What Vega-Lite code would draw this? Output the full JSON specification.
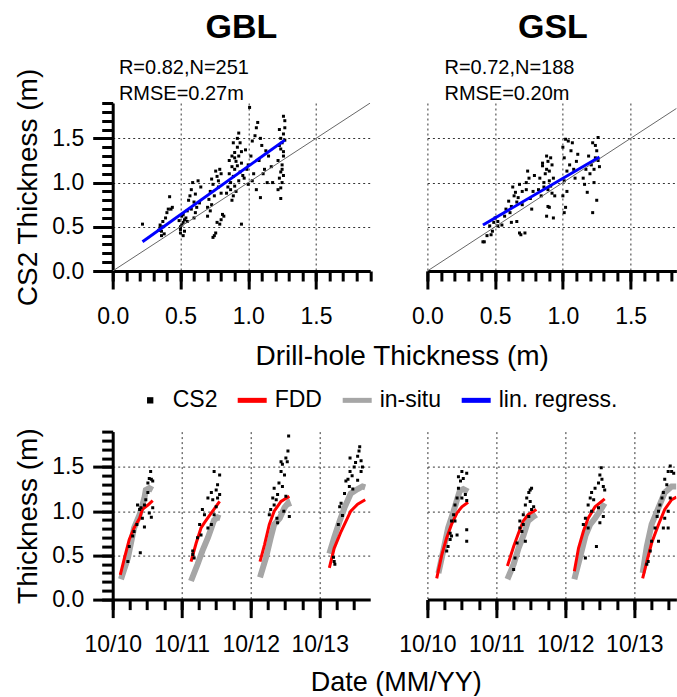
{
  "$schema": "https://vega.github.io/schema/vega-lite/v6.json",
  "padding": {"left": 14.7, "top": 11, "right": 0, "bottom": 0},
  "bounds": "flush",
  "columns": 2,
  "spacing": {"row": 160.6, "column": 56.7},
  "resolve": {"scale": {"x": "independent", "y": "independent", "color": "independent"}},
  "datasets": {
    "gblScatter": [
      {"drill":0.22,"cs2":0.53},{"drill":0.35,"cs2":0.52},{"drill":0.35,"cs2":0.49},{"drill":0.36,"cs2":0.45},{"drill":0.37,"cs2":0.56},{"drill":0.38,"cs2":0.42},{"drill":0.39,"cs2":0.60},{"drill":0.36,"cs2":0.40},{"drill":0.34,"cs2":0.46},{"drill":0.37,"cs2":0.50},{"drill":0.42,"cs2":0.84},{"drill":0.43,"cs2":0.70},{"drill":0.41,"cs2":0.70},{"drill":0.40,"cs2":0.66},{"drill":0.44,"cs2":0.72},
      {"drill":0.50,"cs2":0.43},{"drill":0.50,"cs2":0.47},{"drill":0.51,"cs2":0.52},{"drill":0.52,"cs2":0.55},{"drill":0.53,"cs2":0.58},{"drill":0.51,"cs2":0.62},{"drill":0.50,"cs2":0.50},{"drill":0.53,"cs2":0.45},{"drill":0.52,"cs2":0.40},{"drill":0.54,"cs2":0.60},{"drill":0.55,"cs2":0.56},{"drill":0.49,"cs2":0.57},{"drill":0.52,"cs2":0.64},
      {"drill":0.57,"cs2":0.85},{"drill":0.58,"cs2":0.92},{"drill":0.59,"cs2":1.00},{"drill":0.63,"cs2":1.02},{"drill":0.61,"cs2":0.87},{"drill":0.61,"cs2":0.66},{"drill":0.64,"cs2":0.77},{"drill":0.56,"cs2":0.80},{"drill":0.60,"cs2":0.78},{"drill":0.58,"cs2":0.70},{"drill":0.62,"cs2":0.72},{"drill":0.65,"cs2":0.95},{"drill":0.55,"cs2":0.68},{"drill":0.60,"cs2":0.60},
      {"drill":0.70,"cs2":0.72},{"drill":0.71,"cs2":0.81},{"drill":0.73,"cs2":1.04},{"drill":0.76,"cs2":1.13},{"drill":0.77,"cs2":1.07},{"drill":0.79,"cs2":1.15},{"drill":0.77,"cs2":0.55},{"drill":0.76,"cs2":0.43},{"drill":0.79,"cs2":0.53},{"drill":0.80,"cs2":0.58},{"drill":0.81,"cs2":0.64},{"drill":0.82,"cs2":0.62},{"drill":0.73,"cs2":0.75},{"drill":0.72,"cs2":0.90},{"drill":0.74,"cs2":0.98},{"drill":0.78,"cs2":0.95},{"drill":0.80,"cs2":0.88},{"drill":0.75,"cs2":0.85},{"drill":0.70,"cs2":0.62},{"drill":0.72,"cs2":0.68},{"drill":0.78,"cs2":1.02},{"drill":0.80,"cs2":1.10},{"drill":0.74,"cs2":0.38},{"drill":0.75,"cs2":0.40},
      {"drill":0.93,"cs2":1.56},{"drill":0.94,"cs2":1.45},{"drill":0.90,"cs2":1.34},{"drill":0.91,"cs2":1.24},{"drill":0.92,"cs2":1.19},{"drill":0.89,"cs2":1.07},{"drill":0.90,"cs2":0.96},{"drill":0.89,"cs2":0.85},{"drill":0.87,"cs2":0.92},{"drill":0.95,"cs2":0.53},{"drill":0.86,"cs2":1.10},{"drill":0.88,"cs2":1.18},{"drill":0.90,"cs2":1.28},{"drill":0.92,"cs2":1.40},{"drill":0.93,"cs2":1.30},{"drill":0.95,"cs2":1.35},{"drill":0.94,"cs2":1.12},{"drill":0.87,"cs2":1.00},{"drill":0.88,"cs2":0.80},{"drill":0.91,"cs2":0.90},{"drill":0.93,"cs2":1.02},{"drill":0.95,"cs2":1.22},{"drill":0.85,"cs2":0.95},{"drill":0.86,"cs2":1.25},{"drill":0.89,"cs2":1.45},{"drill":0.92,"cs2":1.50},{"drill":0.96,"cs2":1.08},{"drill":0.84,"cs2":0.88},{"drill":0.90,"cs2":1.15},{"drill":0.88,"cs2":1.30},
      {"drill":1.01,"cs2":1.85},{"drill":1.07,"cs2":1.68},{"drill":1.03,"cs2":1.47},{"drill":1.05,"cs2":1.53},{"drill":0.98,"cs2":1.37},{"drill":0.97,"cs2":1.05},{"drill":1.00,"cs2":0.98},{"drill":1.06,"cs2":0.92},{"drill":1.09,"cs2":0.83},{"drill":1.12,"cs2":1.15},{"drill":1.13,"cs2":1.36},{"drill":1.14,"cs2":1.00},{"drill":1.18,"cs2":1.00},{"drill":1.00,"cs2":1.20},{"drill":1.02,"cs2":1.30},{"drill":1.04,"cs2":1.10},{"drill":1.08,"cs2":1.25},{"drill":1.10,"cs2":1.42},{"drill":1.06,"cs2":1.62},{"drill":1.11,"cs2":1.10},{"drill":0.99,"cs2":1.15},{"drill":1.03,"cs2":1.02},{"drill":1.15,"cs2":1.30},{"drill":1.17,"cs2":1.18},{"drill":1.09,"cs2":1.50},
      {"drill":1.22,"cs2":0.92},{"drill":1.23,"cs2":1.05},{"drill":1.24,"cs2":1.12},{"drill":1.25,"cs2":1.20},{"drill":1.26,"cs2":1.30},{"drill":1.24,"cs2":1.38},{"drill":1.25,"cs2":1.45},{"drill":1.26,"cs2":1.55},{"drill":1.27,"cs2":1.62},{"drill":1.27,"cs2":1.70},{"drill":1.26,"cs2":1.75},{"drill":1.23,"cs2":1.42},{"drill":1.24,"cs2":1.50},{"drill":1.22,"cs2":1.25},{"drill":1.25,"cs2":1.00},{"drill":1.24,"cs2":0.94},{"drill":1.25,"cs2":1.15},{"drill":1.26,"cs2":1.35},{"drill":1.23,"cs2":1.60},{"drill":1.27,"cs2":1.48},{"drill":1.24,"cs2":0.82},{"drill":1.26,"cs2":1.08}
    ],
    "gslScatter": [
      {"drill":0.41,"cs2":0.33},{"drill":0.42,"cs2":0.33},{"drill":0.44,"cs2":0.40},{"drill":0.47,"cs2":0.41},{"drill":0.46,"cs2":0.51},{"drill":0.49,"cs2":0.55},{"drill":0.52,"cs2":0.56},{"drill":0.52,"cs2":0.51},{"drill":0.50,"cs2":0.60},{"drill":0.55,"cs2":0.52},{"drill":0.48,"cs2":0.45},
      {"drill":0.60,"cs2":0.79},{"drill":0.62,"cs2":0.73},{"drill":0.64,"cs2":0.85},{"drill":0.65,"cs2":0.89},{"drill":0.67,"cs2":0.83},{"drill":0.68,"cs2":0.43},{"drill":0.69,"cs2":0.41},{"drill":0.72,"cs2":0.43},{"drill":0.66,"cs2":0.56},{"drill":0.62,"cs2":0.55},{"drill":0.58,"cs2":0.70},{"drill":0.63,"cs2":0.95},{"drill":0.66,"cs2":0.78},{"drill":0.70,"cs2":0.75},{"drill":0.61,"cs2":0.66},{"drill":0.70,"cs2":0.90},{"drill":0.68,"cs2":0.98},{"drill":0.57,"cs2":0.62},
      {"drill":0.74,"cs2":1.13},{"drill":0.75,"cs2":1.05},{"drill":0.73,"cs2":0.92},{"drill":0.73,"cs2":1.00},{"drill":0.76,"cs2":0.82},{"drill":0.78,"cs2":0.90},{"drill":0.77,"cs2":0.70},{"drill":0.79,"cs2":1.08},
      {"drill":0.83,"cs2":1.05},{"drill":0.85,"cs2":1.19},{"drill":0.89,"cs2":1.24},{"drill":0.90,"cs2":1.13},{"drill":0.91,"cs2":1.28},{"drill":0.93,"cs2":1.05},{"drill":0.91,"cs2":0.96},{"drill":0.89,"cs2":0.92},{"drill":0.89,"cs2":0.73},{"drill":0.88,"cs2":0.62},{"drill":0.93,"cs2":0.60},{"drill":0.90,"cs2":0.72},{"drill":0.84,"cs2":0.85},{"drill":0.82,"cs2":0.92},{"drill":0.86,"cs2":1.00},{"drill":0.87,"cs2":1.10},{"drill":0.88,"cs2":1.15},{"drill":0.92,"cs2":1.20},{"drill":0.94,"cs2":0.85},{"drill":0.86,"cs2":0.95},{"drill":0.90,"cs2":1.02},{"drill":0.92,"cs2":0.88},{"drill":0.85,"cs2":1.22},{"drill":0.88,"cs2":1.30},
      {"drill":1.02,"cs2":1.49},{"drill":1.04,"cs2":1.47},{"drill":1.07,"cs2":1.45},{"drill":1.06,"cs2":1.36},{"drill":1.01,"cs2":1.28},{"drill":1.03,"cs2":1.13},{"drill":1.01,"cs2":1.02},{"drill":1.02,"cs2":0.72},{"drill":1.01,"cs2":0.66},{"drill":1.09,"cs2":1.05},{"drill":1.10,"cs2":1.24},{"drill":1.11,"cs2":1.32},{"drill":1.00,"cs2":1.40},{"drill":1.05,"cs2":1.20},{"drill":1.03,"cs2":0.90},{"drill":1.08,"cs2":1.15},{"drill":1.00,"cs2":0.85},
      {"drill":1.15,"cs2":1.05},{"drill":1.16,"cs2":0.98},{"drill":1.18,"cs2":0.89},{"drill":1.22,"cs2":0.66},{"drill":1.25,"cs2":0.80},{"drill":1.23,"cs2":1.00},{"drill":1.21,"cs2":1.20},{"drill":1.22,"cs2":1.45},{"drill":1.26,"cs2":1.51},{"drill":1.25,"cs2":1.36},{"drill":1.23,"cs2":1.15},{"drill":1.24,"cs2":1.28},{"drill":1.20,"cs2":1.10},{"drill":1.26,"cs2":1.25},{"drill":1.24,"cs2":1.42},{"drill":1.27,"cs2":1.18},{"drill":1.19,"cs2":1.30},{"drill":1.17,"cs2":1.15}
    ],
    "diag": [{"drill":0,"cs2":0},{"drill":1.9,"cs2":1.9}],
    "gblReg": [{"drill":0.22,"cs2":0.33},{"drill":1.27,"cs2":1.48}],
    "gslReg": [{"drill":0.41,"cs2":0.52},{"drill":1.27,"cs2":1.29}],
    "gblStats": [{"label":"R=0.82,N=251\nRMSE=0.27m"}],
    "gslStats": [{"label":"R=0.72,N=188\nRMSE=0.20m"}],
    "gblTime": [
      {"s":1,"k":"FDD","yr":2010.86,"h":0.28},{"s":1,"k":"FDD","yr":2010.92,"h":0.47},{"s":1,"k":"FDD","yr":2010.99,"h":0.68},{"s":1,"k":"FDD","yr":2011.06,"h":0.81},{"s":1,"k":"FDD","yr":2011.14,"h":0.92},{"s":1,"k":"FDD","yr":2011.18,"h":1.02},{"s":1,"k":"FDD","yr":2011.26,"h":1.07},{"s":1,"k":"FDD","yr":2011.33,"h":1.12},
      {"s":1,"k":"in-situ","yr":2010.87,"h":0.23},{"s":1,"k":"in-situ","yr":2010.97,"h":0.47},{"s":1,"k":"in-situ","yr":2011.06,"h":0.81},{"s":1,"k":"in-situ","yr":2011.14,"h":0.96},{"s":1,"k":"in-situ","yr":2011.21,"h":1.15},{"s":1,"k":"in-situ","yr":2011.23,"h":1.24},{"s":1,"k":"in-situ","yr":2011.28,"h":1.26},{"s":1,"k":"in-situ","yr":2011.33,"h":1.24},
      {"s":1,"k":"CS2","yr":2010.97,"h":0.43},{"s":1,"k":"CS2","yr":2010.99,"h":0.60},{"s":1,"k":"CS2","yr":2011.04,"h":0.72},{"s":1,"k":"CS2","yr":2011.06,"h":0.77},{"s":1,"k":"CS2","yr":2011.10,"h":0.85},{"s":1,"k":"CS2","yr":2011.11,"h":1.07},{"s":1,"k":"CS2","yr":2011.14,"h":1.02},{"s":1,"k":"CS2","yr":2011.15,"h":0.53},{"s":1,"k":"CS2","yr":2011.16,"h":1.04},{"s":1,"k":"CS2","yr":2011.21,"h":0.82},{"s":1,"k":"CS2","yr":2011.23,"h":1.13},{"s":1,"k":"CS2","yr":2011.26,"h":1.32},{"s":1,"k":"CS2","yr":2011.28,"h":1.37},{"s":1,"k":"CS2","yr":2011.31,"h":1.36},{"s":1,"k":"CS2","yr":2011.33,"h":1.34},{"s":1,"k":"CS2","yr":2011.30,"h":1.45},{"s":1,"k":"CS2","yr":2011.31,"h":0.93},{"s":1,"k":"CS2","yr":2011.28,"h":0.98},{"s":1,"k":"CS2","yr":2011.33,"h":1.04},{"s":1,"k":"CS2","yr":2011.26,"h":1.21},{"s":1,"k":"CS2","yr":2011.21,"h":1.07},{"s":1,"k":"CS2","yr":2011.18,"h":0.92},
      {"s":2,"k":"FDD","yr":2011.885,"h":0.43},{"s":2,"k":"FDD","yr":2011.96,"h":0.64},{"s":2,"k":"FDD","yr":2012.03,"h":0.81},{"s":2,"k":"FDD","yr":2012.08,"h":0.87},{"s":2,"k":"FDD","yr":2012.18,"h":0.98},{"s":2,"k":"FDD","yr":2012.30,"h":1.11},
      {"s":2,"k":"in-situ","yr":2011.885,"h":0.21},{"s":2,"k":"in-situ","yr":2011.98,"h":0.40},{"s":2,"k":"in-situ","yr":2012.05,"h":0.55},{"s":2,"k":"in-situ","yr":2012.13,"h":0.70},{"s":2,"k":"in-situ","yr":2012.18,"h":0.81},{"s":2,"k":"in-situ","yr":2012.22,"h":0.90},{"s":2,"k":"in-situ","yr":2012.27,"h":0.93},{"s":2,"k":"in-situ","yr":2012.31,"h":0.92},
      {"s":2,"k":"CS2","yr":2011.91,"h":0.55},{"s":2,"k":"CS2","yr":2011.91,"h":0.51},{"s":2,"k":"CS2","yr":2011.93,"h":0.47},{"s":2,"k":"CS2","yr":2011.98,"h":0.70},{"s":2,"k":"CS2","yr":2012.01,"h":0.85},{"s":2,"k":"CS2","yr":2012.03,"h":0.73},{"s":2,"k":"CS2","yr":2012.05,"h":1.02},{"s":2,"k":"CS2","yr":2012.08,"h":0.96},{"s":2,"k":"CS2","yr":2012.13,"h":1.15},{"s":2,"k":"CS2","yr":2012.18,"h":1.21},{"s":2,"k":"CS2","yr":2012.20,"h":1.13},{"s":2,"k":"CS2","yr":2012.22,"h":1.45},{"s":2,"k":"CS2","yr":2012.25,"h":1.24},{"s":2,"k":"CS2","yr":2012.27,"h":1.30},{"s":2,"k":"CS2","yr":2012.30,"h":1.41},{"s":2,"k":"CS2","yr":2012.22,"h":0.96},{"s":2,"k":"CS2","yr":2012.18,"h":0.85},{"s":2,"k":"CS2","yr":2012.13,"h":0.81},{"s":2,"k":"CS2","yr":2012.25,"h":1.05},{"s":2,"k":"CS2","yr":2012.30,"h":1.19},{"s":2,"k":"CS2","yr":2012.27,"h":1.15},
      {"s":3,"k":"FDD","yr":2012.885,"h":0.43},{"s":3,"k":"FDD","yr":2012.95,"h":0.62},{"s":3,"k":"FDD","yr":2013.02,"h":0.85},{"s":3,"k":"FDD","yr":2013.09,"h":1.00},{"s":3,"k":"FDD","yr":2013.19,"h":1.11},{"s":3,"k":"FDD","yr":2013.31,"h":1.17},
      {"s":3,"k":"in-situ","yr":2012.885,"h":0.25},{"s":3,"k":"in-situ","yr":2012.97,"h":0.47},{"s":3,"k":"in-situ","yr":2013.04,"h":0.70},{"s":3,"k":"in-situ","yr":2013.09,"h":0.85},{"s":3,"k":"in-situ","yr":2013.17,"h":0.92},{"s":3,"k":"in-situ","yr":2013.24,"h":1.04},{"s":3,"k":"in-situ","yr":2013.29,"h":1.09},{"s":3,"k":"in-situ","yr":2013.31,"h":1.05},
      {"s":3,"k":"CS2","yr":2013.04,"h":1.02},{"s":3,"k":"CS2","yr":2013.07,"h":1.15},{"s":3,"k":"CS2","yr":2013.09,"h":1.26},{"s":3,"k":"CS2","yr":2013.12,"h":1.13},{"s":3,"k":"CS2","yr":2013.13,"h":0.92},{"s":3,"k":"CS2","yr":2013.14,"h":0.87},{"s":3,"k":"CS2","yr":2013.16,"h":1.32},{"s":3,"k":"CS2","yr":2013.19,"h":1.45},{"s":3,"k":"CS2","yr":2013.19,"h":1.56},{"s":3,"k":"CS2","yr":2013.21,"h":1.53},{"s":3,"k":"CS2","yr":2013.24,"h":1.41},{"s":3,"k":"CS2","yr":2013.26,"h":1.60},{"s":3,"k":"CS2","yr":2013.29,"h":1.68},{"s":3,"k":"CS2","yr":2013.30,"h":1.85},{"s":3,"k":"CS2","yr":2013.28,"h":1.56},{"s":3,"k":"CS2","yr":2013.21,"h":1.28},{"s":3,"k":"CS2","yr":2013.14,"h":1.19},{"s":3,"k":"CS2","yr":2013.09,"h":1.07},{"s":3,"k":"CS2","yr":2013.31,"h":0.94},{"s":3,"k":"CS2","yr":2013.26,"h":1.17},{"s":3,"k":"CS2","yr":2013.23,"h":1.00},{"s":3,"k":"CS2","yr":2013.02,"h":0.96},
      {"s":4,"k":"FDD","yr":2013.89,"h":0.36},{"s":4,"k":"FDD","yr":2013.96,"h":0.58},{"s":4,"k":"FDD","yr":2014.06,"h":0.77},{"s":4,"k":"FDD","yr":2014.20,"h":1.00},{"s":4,"k":"FDD","yr":2014.30,"h":1.08},{"s":4,"k":"FDD","yr":2014.41,"h":1.13},
      {"s":4,"k":"in-situ","yr":2013.89,"h":0.52},{"s":4,"k":"in-situ","yr":2013.96,"h":0.70},{"s":4,"k":"in-situ","yr":2014.04,"h":0.89},{"s":4,"k":"in-situ","yr":2014.11,"h":1.04},{"s":4,"k":"in-situ","yr":2014.20,"h":1.20},{"s":4,"k":"in-situ","yr":2014.30,"h":1.25},{"s":4,"k":"in-situ","yr":2014.37,"h":1.28},{"s":4,"k":"in-situ","yr":2014.41,"h":1.27},
      {"s":4,"k":"CS2","yr":2013.95,"h":0.48},{"s":4,"k":"CS2","yr":2013.96,"h":0.43},{"s":4,"k":"CS2","yr":2013.97,"h":0.40},{"s":4,"k":"CS2","yr":2014.02,"h":0.85},{"s":4,"k":"CS2","yr":2014.04,"h":1.05},{"s":4,"k":"CS2","yr":2014.06,"h":1.09},{"s":4,"k":"CS2","yr":2014.08,"h":0.95},{"s":4,"k":"CS2","yr":2014.11,"h":1.20},{"s":4,"k":"CS2","yr":2014.13,"h":1.34},{"s":4,"k":"CS2","yr":2014.16,"h":1.36},{"s":4,"k":"CS2","yr":2014.18,"h":1.28},{"s":4,"k":"CS2","yr":2014.19,"h":1.60},{"s":4,"k":"CS2","yr":2014.19,"h":1.45},{"s":4,"k":"CS2","yr":2014.22,"h":1.40},{"s":4,"k":"CS2","yr":2014.25,"h":1.50},{"s":4,"k":"CS2","yr":2014.27,"h":1.55},{"s":4,"k":"CS2","yr":2014.30,"h":1.62},{"s":4,"k":"CS2","yr":2014.32,"h":1.68},{"s":4,"k":"CS2","yr":2014.33,"h":1.73},{"s":4,"k":"CS2","yr":2014.35,"h":1.57},{"s":4,"k":"CS2","yr":2014.35,"h":1.45},{"s":4,"k":"CS2","yr":2014.37,"h":1.50},{"s":4,"k":"CS2","yr":2014.30,"h":1.35},{"s":4,"k":"CS2","yr":2014.23,"h":1.25}
    ],
    "gslTime": [
      {"s":1,"k":"FDD","yr":2010.885,"h":0.24},{"s":1,"k":"FDD","yr":2010.96,"h":0.51},{"s":1,"k":"FDD","yr":2011.03,"h":0.70},{"s":1,"k":"FDD","yr":2011.10,"h":0.85},{"s":1,"k":"FDD","yr":2011.18,"h":0.98},{"s":1,"k":"FDD","yr":2011.25,"h":1.05},{"s":1,"k":"FDD","yr":2011.34,"h":1.10},
      {"s":1,"k":"in-situ","yr":2010.91,"h":0.30},{"s":1,"k":"in-situ","yr":2010.98,"h":0.55},{"s":1,"k":"in-situ","yr":2011.05,"h":0.81},{"s":1,"k":"in-situ","yr":2011.13,"h":1.00},{"s":1,"k":"in-situ","yr":2011.18,"h":1.13},{"s":1,"k":"in-situ","yr":2011.22,"h":1.23},{"s":1,"k":"in-situ","yr":2011.27,"h":1.25},{"s":1,"k":"in-situ","yr":2011.34,"h":1.22},
      {"s":1,"k":"CS2","yr":2011.03,"h":0.55},{"s":1,"k":"CS2","yr":2011.05,"h":0.60},{"s":1,"k":"CS2","yr":2011.08,"h":0.68},{"s":1,"k":"CS2","yr":2011.10,"h":0.72},{"s":1,"k":"CS2","yr":2011.08,"h":0.75},{"s":1,"k":"CS2","yr":2011.10,"h":0.89},{"s":1,"k":"CS2","yr":2011.13,"h":0.96},{"s":1,"k":"CS2","yr":2011.15,"h":1.07},{"s":1,"k":"CS2","yr":2011.18,"h":1.15},{"s":1,"k":"CS2","yr":2011.20,"h":1.26},{"s":1,"k":"CS2","yr":2011.20,"h":1.39},{"s":1,"k":"CS2","yr":2011.25,"h":1.45},{"s":1,"k":"CS2","yr":2011.27,"h":1.37},{"s":1,"k":"CS2","yr":2011.32,"h":1.43},{"s":1,"k":"CS2","yr":2011.23,"h":1.34},{"s":1,"k":"CS2","yr":2011.25,"h":1.15},{"s":1,"k":"CS2","yr":2011.18,"h":0.73},{"s":1,"k":"CS2","yr":2011.15,"h":0.89},{"s":1,"k":"CS2","yr":2011.32,"h":0.79},{"s":1,"k":"CS2","yr":2011.32,"h":0.66},{"s":1,"k":"CS2","yr":2011.32,"h":1.12},{"s":1,"k":"CS2","yr":2011.30,"h":1.19},
      {"s":2,"k":"FDD","yr":2011.91,"h":0.38},{"s":2,"k":"FDD","yr":2012.00,"h":0.60},{"s":2,"k":"FDD","yr":2012.07,"h":0.75},{"s":2,"k":"FDD","yr":2012.14,"h":0.89},{"s":2,"k":"FDD","yr":2012.21,"h":0.96},{"s":2,"k":"FDD","yr":2012.33,"h":1.02},
      {"s":2,"k":"in-situ","yr":2011.91,"h":0.23},{"s":2,"k":"in-situ","yr":2012.00,"h":0.40},{"s":2,"k":"in-situ","yr":2012.07,"h":0.58},{"s":2,"k":"in-situ","yr":2012.14,"h":0.72},{"s":2,"k":"in-situ","yr":2012.21,"h":0.89},{"s":2,"k":"in-situ","yr":2012.29,"h":0.94},{"s":2,"k":"in-situ","yr":2012.33,"h":0.96},
      {"s":2,"k":"CS2","yr":2012.00,"h":0.34},{"s":2,"k":"CS2","yr":2012.02,"h":0.47},{"s":2,"k":"CS2","yr":2012.05,"h":0.64},{"s":2,"k":"CS2","yr":2012.09,"h":0.81},{"s":2,"k":"CS2","yr":2012.09,"h":0.89},{"s":2,"k":"CS2","yr":2012.12,"h":0.77},{"s":2,"k":"CS2","yr":2012.14,"h":0.96},{"s":2,"k":"CS2","yr":2012.17,"h":0.66},{"s":2,"k":"CS2","yr":2012.17,"h":1.07},{"s":2,"k":"CS2","yr":2012.19,"h":1.15},{"s":2,"k":"CS2","yr":2012.22,"h":1.21},{"s":2,"k":"CS2","yr":2012.24,"h":1.24},{"s":2,"k":"CS2","yr":2012.26,"h":1.26},{"s":2,"k":"CS2","yr":2012.24,"h":1.11},{"s":2,"k":"CS2","yr":2012.26,"h":1.02},{"s":2,"k":"CS2","yr":2012.29,"h":1.05},{"s":2,"k":"CS2","yr":2012.22,"h":0.94},{"s":2,"k":"CS2","yr":2012.14,"h":0.85},
      {"s":3,"k":"FDD","yr":2012.88,"h":0.32},{"s":3,"k":"FDD","yr":2012.94,"h":0.58},{"s":3,"k":"FDD","yr":2013.01,"h":0.77},{"s":3,"k":"FDD","yr":2013.08,"h":0.92},{"s":3,"k":"FDD","yr":2013.18,"h":1.05},{"s":3,"k":"FDD","yr":2013.32,"h":1.14},
      {"s":3,"k":"in-situ","yr":2012.88,"h":0.23},{"s":3,"k":"in-situ","yr":2012.96,"h":0.47},{"s":3,"k":"in-situ","yr":2013.04,"h":0.72},{"s":3,"k":"in-situ","yr":2013.11,"h":0.85},{"s":3,"k":"in-situ","yr":2013.18,"h":0.92},{"s":3,"k":"in-situ","yr":2013.25,"h":1.00},{"s":3,"k":"in-situ","yr":2013.32,"h":1.09},
      {"s":3,"k":"CS2","yr":2013.04,"h":0.47},{"s":3,"k":"CS2","yr":2013.01,"h":0.85},{"s":3,"k":"CS2","yr":2013.04,"h":0.92},{"s":3,"k":"CS2","yr":2013.08,"h":1.07},{"s":3,"k":"CS2","yr":2013.11,"h":1.15},{"s":3,"k":"CS2","yr":2013.13,"h":1.21},{"s":3,"k":"CS2","yr":2013.16,"h":1.13},{"s":3,"k":"CS2","yr":2013.18,"h":1.26},{"s":3,"k":"CS2","yr":2013.20,"h":0.60},{"s":3,"k":"CS2","yr":2013.23,"h":1.32},{"s":3,"k":"CS2","yr":2013.25,"h":1.41},{"s":3,"k":"CS2","yr":2013.27,"h":1.49},{"s":3,"k":"CS2","yr":2013.28,"h":1.36},{"s":3,"k":"CS2","yr":2013.30,"h":1.28},{"s":3,"k":"CS2","yr":2013.32,"h":1.24},{"s":3,"k":"CS2","yr":2013.25,"h":0.87},{"s":3,"k":"CS2","yr":2013.23,"h":1.04},{"s":3,"k":"CS2","yr":2013.30,"h":0.94},{"s":3,"k":"CS2","yr":2013.13,"h":1.00},{"s":3,"k":"CS2","yr":2013.08,"h":0.81},
      {"s":4,"k":"FDD","yr":2013.87,"h":0.24},{"s":4,"k":"FDD","yr":2013.93,"h":0.43},{"s":4,"k":"FDD","yr":2014.00,"h":0.64},{"s":4,"k":"FDD","yr":2014.10,"h":0.85},{"s":4,"k":"FDD","yr":2014.19,"h":1.02},{"s":4,"k":"FDD","yr":2014.29,"h":1.13},{"s":4,"k":"FDD","yr":2014.36,"h":1.16},
      {"s":4,"k":"in-situ","yr":2013.87,"h":0.30},{"s":4,"k":"in-situ","yr":2013.93,"h":0.60},{"s":4,"k":"in-situ","yr":2014.00,"h":0.85},{"s":4,"k":"in-situ","yr":2014.10,"h":1.04},{"s":4,"k":"in-situ","yr":2014.19,"h":1.21},{"s":4,"k":"in-situ","yr":2014.29,"h":1.28},{"s":4,"k":"in-situ","yr":2014.36,"h":1.28},
      {"s":4,"k":"CS2","yr":2013.93,"h":0.40},{"s":4,"k":"CS2","yr":2013.95,"h":0.43},{"s":4,"k":"CS2","yr":2013.98,"h":0.55},{"s":4,"k":"CS2","yr":2014.00,"h":0.66},{"s":4,"k":"CS2","yr":2014.05,"h":0.81},{"s":4,"k":"CS2","yr":2014.08,"h":0.94},{"s":4,"k":"CS2","yr":2014.10,"h":1.00},{"s":4,"k":"CS2","yr":2014.12,"h":1.07},{"s":4,"k":"CS2","yr":2014.15,"h":1.15},{"s":4,"k":"CS2","yr":2014.17,"h":1.21},{"s":4,"k":"CS2","yr":2014.19,"h":1.36},{"s":4,"k":"CS2","yr":2014.22,"h":1.30},{"s":4,"k":"CS2","yr":2014.24,"h":1.45},{"s":4,"k":"CS2","yr":2014.27,"h":1.51},{"s":4,"k":"CS2","yr":2014.29,"h":1.45},{"s":4,"k":"CS2","yr":2014.32,"h":1.43},{"s":4,"k":"CS2","yr":2014.27,"h":1.15},{"s":4,"k":"CS2","yr":2014.24,"h":1.00},{"s":4,"k":"CS2","yr":2014.19,"h":0.92},{"s":4,"k":"CS2","yr":2014.24,"h":0.81},{"s":4,"k":"CS2","yr":2014.17,"h":0.81},{"s":4,"k":"CS2","yr":2014.10,"h":0.66}
    ]
  },
  "concat": [
    {
      "width": 257.5, "height": 168,
      "title": {"text": "GBL", "offset": 13},
      "resolve": {"axis": {"x": "independent", "y": "independent"}},
      "layer": [
        {
          "data": {"name": "gblScatter"},
          "mark": {"type": "square", "size": 9, "color": "black", "opacity": 1},
          "encoding": {
            "x": {"field": "drill", "type": "quantitative", "scale": {"domain": [0, 1.9], "nice": false, "zero": false},
                  "axis": {"values": [0, 0.5, 1, 1.5], "format": ".1f", "tickSize": 18, "labelPadding": 16, "grid": true, "title": "Drill-hole Thickness (m)", "titleX": 289, "titleY": 86, "titleAlign": "center", "titleBaseline": "middle"}},
            "y": {"field": "cs2", "type": "quantitative", "scale": {"domain": [0, 1.9], "nice": false, "zero": false},
                  "axis": {"values": [0, 0.5, 1, 1.5], "format": ".1f", "tickSize": 20, "labelPadding": 9, "grid": true, "title": "CS2 Thickness (m)", "titlePadding": 9}}
          }
        },
        {
          "data": {"name": "diag"},
          "mark": {"type": "line", "color": "#666666", "strokeWidth": 1, "clip": true},
          "encoding": {
            "x": {"field": "drill", "type": "quantitative", "axis": {"orient": "bottom", "values": [0,0.1,0.2,0.3,0.4,0.5,0.6,0.7,0.8,0.9,1,1.1,1.2,1.3,1.4,1.5,1.6,1.7,1.8,1.9], "tickSize": 10, "labels": false, "domain": false, "grid": false, "title": null}},
            "y": {"field": "cs2", "type": "quantitative", "axis": {"orient": "left", "values": [0,0.1,0.2,0.3,0.4,0.5,0.6,0.7,0.8,0.9,1,1.1,1.2,1.3,1.4,1.5,1.6,1.7,1.8,1.9], "tickSize": 11, "labels": false, "domain": false, "grid": false, "title": null}}
          }
        },
        {
          "data": {"name": "gblReg"},
          "mark": {"type": "line", "color": "#0000ff", "strokeWidth": 3},
          "encoding": {
            "x": {"field": "drill", "type": "quantitative", "axis": null},
            "y": {"field": "cs2", "type": "quantitative", "axis": null}
          }
        },
        {
          "data": {"name": "gblStats"},
          "mark": {"type": "text", "align": "left", "baseline": "alphabetic", "dy": -29, "fontSize": 20, "lineBreak": "\n", "lineHeight": 26, "color": "black"},
          "encoding": {
            "text": {"field": "label"},
            "x": {"datum": 0.046, "type": "quantitative", "axis": null},
            "y": {"datum": 1.9, "type": "quantitative", "axis": null}
          }
        }
      ]
    },
    {
      "width": 249, "height": 168,
      "title": {"text": "GSL", "offset": 13, "dx": 1},
      "resolve": {"axis": {"x": "independent", "y": "independent"}},
      "layer": [
        {
          "data": {"name": "gslScatter"},
          "mark": {"type": "square", "size": 9, "color": "black", "opacity": 1},
          "encoding": {
            "x": {"field": "drill", "type": "quantitative", "scale": {"domain": [0, 1.838], "nice": false, "zero": false},
                  "axis": {"values": [0, 0.5, 1, 1.5], "format": ".1f", "tickSize": 18, "labelPadding": 16, "grid": true, "title": null}},
            "y": {"field": "cs2", "type": "quantitative", "scale": {"domain": [0, 1.9], "nice": false, "zero": false},
                  "axis": {"values": [0.5, 1, 1.5], "grid": true, "labels": false, "ticks": false, "domain": false, "title": null}}
          }
        },
        {
          "data": {"name": "diag"},
          "mark": {"type": "line", "color": "#666666", "strokeWidth": 1, "clip": true},
          "encoding": {
            "x": {"field": "drill", "type": "quantitative", "axis": {"orient": "bottom", "values": [0,0.1,0.2,0.3,0.4,0.5,0.6,0.7,0.8,0.9,1,1.1,1.2,1.3,1.4,1.5,1.6,1.7,1.8], "tickSize": 10, "labels": false, "domain": false, "grid": false, "title": null}},
            "y": {"field": "cs2", "type": "quantitative", "axis": null}
          }
        },
        {
          "data": {"name": "gslReg"},
          "mark": {"type": "line", "color": "#0000ff", "strokeWidth": 3},
          "encoding": {
            "x": {"field": "drill", "type": "quantitative", "axis": null},
            "y": {"field": "cs2", "type": "quantitative", "axis": null}
          }
        },
        {
          "data": {"name": "gslStats"},
          "mark": {"type": "text", "align": "left", "baseline": "alphabetic", "dy": -29, "fontSize": 20, "lineBreak": "\n", "lineHeight": 26, "color": "black"},
          "encoding": {
            "text": {"field": "label"},
            "x": {"datum": 0.126, "type": "quantitative", "axis": null},
            "y": {"datum": 1.9, "type": "quantitative", "axis": null}
          }
        }
      ]
    },
    {
      "width": 257.5, "height": 168,
      "data": {"name": "gblTime"},
      "resolve": {"axis": {"x": "independent", "y": "independent"}},
      "layer": [
        {
          "transform": [{"filter": "datum.k === 'in-situ'"}],
          "mark": {"type": "line", "strokeWidth": 6, "clip": true},
          "encoding": {
            "x": {"field": "yr", "type": "quantitative", "scale": {"domain": [2010.75, 2014.482], "nice": false, "zero": false},
                  "axis": {"values": [2010.75, 2011.75, 2012.75, 2013.75], "labelExpr": "'10/' + format(floor(datum.value) - 2000, '02d')", "tickSize": 18, "labelPadding": 16, "grid": true, "title": "Date (MM/YY)", "titleFontSize": 27, "titleX": 283, "titleY": 83, "titleAlign": "center", "titleBaseline": "middle"}},
            "y": {"field": "h", "type": "quantitative", "scale": {"domain": [0, 1.9], "nice": false, "zero": false},
                  "axis": {"values": [0, 0.5, 1, 1.5], "format": ".1f", "tickSize": 20, "labelPadding": 9, "grid": true, "title": "Thickness (m)", "titlePadding": 9}},
            "detail": {"field": "s"},
            "color": {"field": "k", "type": "nominal",
                      "scale": {"domain": ["CS2", "FDD", "in-situ", "lin. regress."], "range": ["#000000", "#ff0000", "#a6a6a6", "#0000ff"]},
                      "legend": {"orient": "none", "legendX": 26, "legendY": -43, "direction": "horizontal", "title": null, "labelFontSize": 23, "symbolSize": 841, "symbolStrokeWidth": 5, "columnPadding": 10, "labelOffset": 11, "padding": 0,
                                 "encode": {"symbols": {"update": {
                                   "shape": {"signal": "datum.value === 'CS2' ? 'square' : 'stroke'"},
                                   "size": {"signal": "datum.value === 'CS2' ? 40 : 841"},
                                   "strokeWidth": {"signal": "datum.value === 'CS2' ? 0 : 5"},
                                   "fill": {"signal": "datum.value === 'CS2' ? '#000000' : 'transparent'"},
                                   "stroke": {"signal": "datum.value === 'FDD' ? '#ff0000' : datum.value === 'in-situ' ? '#a6a6a6' : datum.value === 'lin. regress.' ? '#0000ff' : '#000000'"},
                                   "opacity": {"value": 1}
                                 }}}}}
          }
        },
        {
          "transform": [{"filter": "datum.k === 'FDD'"}],
          "mark": {"type": "line", "strokeWidth": 3, "clip": true},
          "encoding": {
            "x": {"field": "yr", "type": "quantitative", "axis": {"orient": "bottom", "values": [2010.75,2011,2011.25,2011.5,2011.75,2012,2012.25,2012.5,2012.75,2013,2013.25,2013.5,2013.75,2014,2014.25], "tickSize": 10, "labels": false, "domain": false, "grid": false, "title": null}},
            "y": {"field": "h", "type": "quantitative", "axis": {"orient": "left", "values": [0,0.1,0.2,0.3,0.4,0.5,0.6,0.7,0.8,0.9,1,1.1,1.2,1.3,1.4,1.5,1.6,1.7,1.8,1.9], "tickSize": 11, "labels": false, "domain": false, "grid": false, "title": null}},
            "detail": {"field": "s"},
            "color": {"field": "k", "type": "nominal"}
          }
        },
        {
          "transform": [{"filter": "datum.k === 'CS2'"}],
          "mark": {"type": "square", "size": 9, "opacity": 1, "clip": true},
          "encoding": {
            "x": {"field": "yr", "type": "quantitative", "axis": null},
            "y": {"field": "h", "type": "quantitative", "axis": null},
            "color": {"field": "k", "type": "nominal"}
          }
        }
      ]
    },
    {
      "width": 249, "height": 168,
      "data": {"name": "gslTime"},
      "resolve": {"axis": {"x": "independent", "y": "independent"}},
      "layer": [
        {
          "transform": [{"filter": "datum.k === 'in-situ'"}],
          "mark": {"type": "line", "strokeWidth": 6, "color": "#a6a6a6", "clip": true},
          "encoding": {
            "x": {"field": "yr", "type": "quantitative", "scale": {"domain": [2010.75, 2014.359], "nice": false, "zero": false},
                  "axis": {"values": [2010.75, 2011.75, 2012.75, 2013.75], "labelExpr": "'10/' + format(floor(datum.value) - 2000, '02d')", "tickSize": 18, "labelPadding": 16, "grid": true, "title": null}},
            "y": {"field": "h", "type": "quantitative", "scale": {"domain": [0, 1.9], "nice": false, "zero": false},
                  "axis": {"values": [0.5, 1, 1.5], "grid": true, "labels": false, "ticks": false, "domain": false, "title": null}},
            "detail": {"field": "s"}
          }
        },
        {
          "transform": [{"filter": "datum.k === 'FDD'"}],
          "mark": {"type": "line", "strokeWidth": 3, "color": "#ff0000", "clip": true},
          "encoding": {
            "x": {"field": "yr", "type": "quantitative", "axis": {"orient": "bottom", "values": [2010.75,2011,2011.25,2011.5,2011.75,2012,2012.25,2012.5,2012.75,2013,2013.25,2013.5,2013.75,2014,2014.25], "tickSize": 10, "labels": false, "domain": false, "grid": false, "title": null}},
            "y": {"field": "h", "type": "quantitative", "axis": null},
            "detail": {"field": "s"}
          }
        },
        {
          "transform": [{"filter": "datum.k === 'CS2'"}],
          "mark": {"type": "square", "size": 9, "color": "black", "opacity": 1, "clip": true},
          "encoding": {
            "x": {"field": "yr", "type": "quantitative", "axis": null},
            "y": {"field": "h", "type": "quantitative", "axis": null}
          }
        }
      ]
    }
  ],
  "config": {
    "font": "Liberation Sans",
    "view": {"stroke": null},
    "title": {"font": "Liberation Sans", "fontSize": 34, "fontWeight": "bold", "color": "black", "anchor": "middle"},
    "axis": {"domainColor": "black", "domainWidth": 3, "tickColor": "black", "tickWidth": 3, "labelColor": "black", "labelFontSize": 23, "labelFont": "Liberation Sans", "labelFlush": false, "labelOverlap": false, "titleColor": "black", "titleFontSize": 28, "titleFontWeight": "normal", "titleFont": "Liberation Sans", "gridColor": "#333333", "gridDash": [2, 3], "gridWidth": 1, "gridOpacity": 1},
    "legend": {"labelFont": "Liberation Sans", "labelColor": "black"},
    "text": {"font": "Liberation Sans"}
  }
}
